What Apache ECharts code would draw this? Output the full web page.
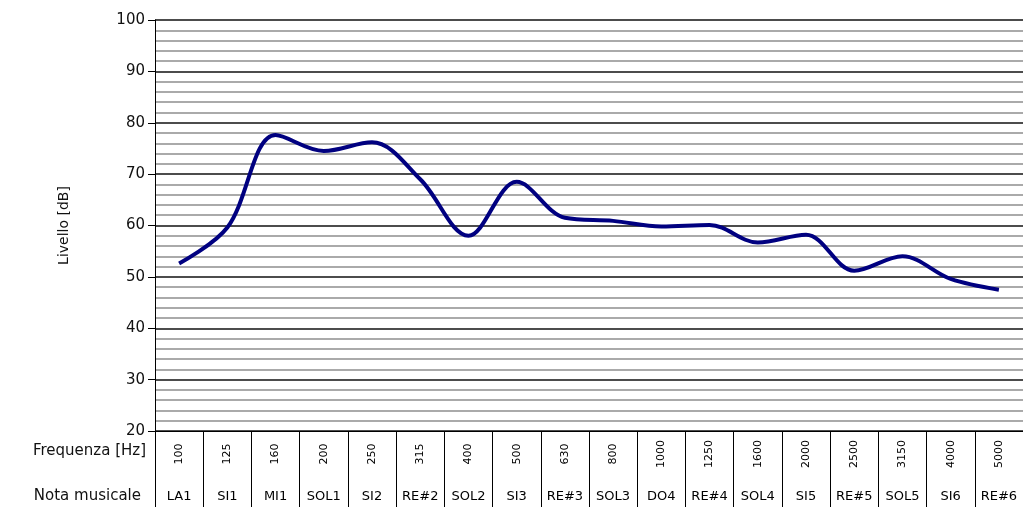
<!DOCTYPE html>
<html>
<head>
<meta charset="utf-8">
<script src="https://cdn.jsdelivr.net/npm/echarts@6/dist/echarts.min.js"></script>
<style>
  html, body { margin: 0; padding: 0; background: #fff; }
  #chart { width: 1023px; height: 507px; }
</style>
</head>
<body>
<div id="chart"></div>
<script>
// frequency bands (Hz) and matching musical notes
const frequencies = ['100', '125', '160', '200', '250', '315', '400', '500', '630',
  '800', '1000', '1250', '1600', '2000', '2500', '3150', '4000', '5000']
const notes = ['LA1', 'SI1', 'MI1', 'SOL1', 'SI2', 'RE#2', 'SOL2', 'SI3', 'RE#3',
  'SOL3', 'DO4', 'RE#4', 'SOL4', 'SI5', 'RE#5', 'SOL5', 'SI6', 'RE#6']
// level in dB
const levels = [52.6, 59.6, 77.6, 74.5, 76.2, 69, 58, 68.5, 61.5,
  60.9, 59.8, 60.1, 56.7, 58.2, 51.2, 54, 49.6, 47.5]

const font = 'DejaVu Sans'
const chart = echarts.init(document.getElementById('chart'))

chart.setOption({
  animation: false,
  grid: { left: 155, width: 871, top: 20, bottom: 76 },
  xAxis: [
    {
      type: 'category',
      data: frequencies,
      boundaryGap: true,
      axisLine: { lineStyle: { color: '#000', width: 1 } },
      axisTick: { show: true, length: 76, interval: 0, lineStyle: { color: '#000' } },
      axisLabel: {
        interval: 0,
        rotate: 90,
        margin: 23,
        align: 'center',
        verticalAlign: 'middle',
        color: '#000',
        fontFamily: font,
        fontSize: 11,
      },
      splitLine: { show: false },
    },
    {
      type: 'category',
      data: notes,
      position: 'bottom',
      boundaryGap: true,
      axisLine: { show: false },
      axisTick: { show: false },
      axisLabel: {
        interval: 0,
        margin: 66,
        verticalAlign: 'middle',
        color: '#000',
        fontFamily: font,
        fontSize: 13,
      },
      splitLine: { show: false },
    },
  ],
  yAxis: {
    type: 'value',
    min: 20,
    max: 100,
    interval: 10,
    name: 'Livello [dB]',
    nameLocation: 'middle',
    nameGap: 84,
    nameRotate: 90,
    nameTextStyle: { color: '#111', fontFamily: font, fontSize: 14 },
    axisLine: { show: true, lineStyle: { color: '#000', width: 1 } },
    axisTick: { show: true, length: 7, lineStyle: { color: '#000' } },
    axisLabel: { color: '#111', fontFamily: font, fontSize: 15, margin: 10 },
    splitLine: { lineStyle: { color: '#111', width: 1.6 } },
    minorTick: { show: false, splitNumber: 5 },
    minorSplitLine: { show: true, lineStyle: { color: '#aaa', width: 2 } },
  },
  graphic: [
    {
      type: 'text',
      right: 1023 - 146,
      top: 444,
      style: { text: 'Frequenza [Hz]', fill: '#111', font: '15px "DejaVu Sans"' },
    },
    {
      type: 'text',
      right: 1023 - 141,
      top: 489,
      style: { text: 'Nota musicale', fill: '#111', font: '15px "DejaVu Sans"' },
    },
  ],
  series: [
    {
      type: 'line',
      data: levels,
      smooth: 0.35,
      showSymbol: false,
      lineStyle: { color: '#000080', width: 4 },
    },
  ],
})
</script>
</body>
</html>
